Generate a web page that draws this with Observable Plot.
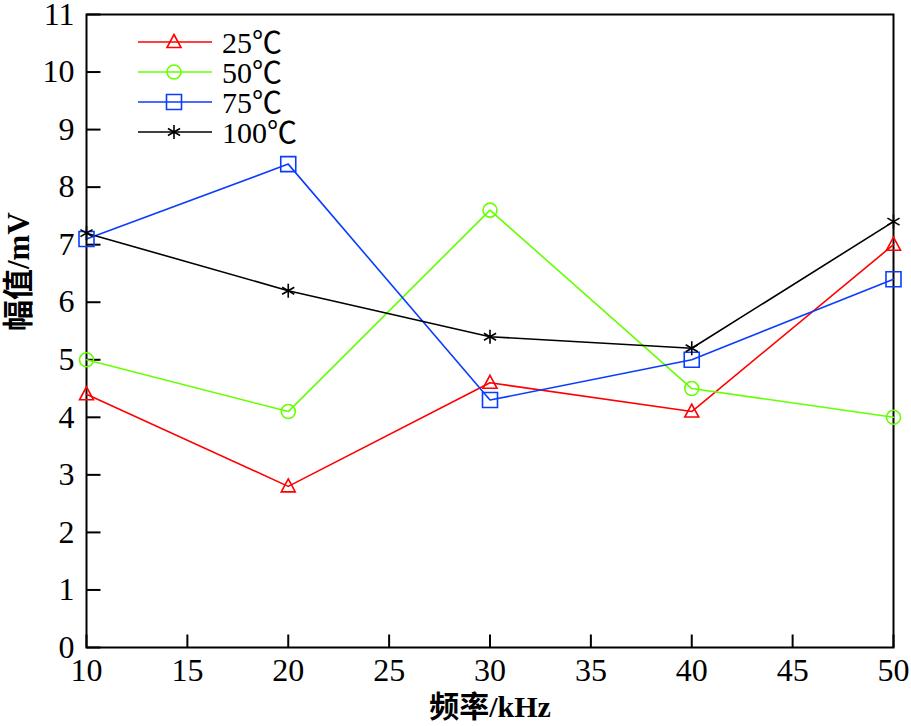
<!DOCTYPE html>
<html><head><meta charset="utf-8">
<script src="https://cdn.jsdelivr.net/npm/d3@7"></script>
<script src="https://cdn.jsdelivr.net/npm/@observablehq/plot@0.6"></script>
<style>
body{margin:0;background:#fff}
#wrap{position:relative;width:911px;height:726px}
#legend{position:absolute;left:0;top:0;pointer-events:none}
svg text{font-family:"Liberation Serif","Noto Sans CJK SC",serif}
</style>
</head><body><div id="wrap"></div>
<script>
const freq = [10, 20, 30, 40, 50];
const seriesNames = ["25℃", "50℃", "75℃", "100℃"];
const amp25 = [4.4, 2.8, 4.6, 4.1, 7.0];
const amp50 = [5.0, 4.1, 7.6, 4.5, 4.0];
const amp75 = [7.1, 8.4, 4.3, 5.0, 6.4];
const amp100 = [7.2, 6.2, 5.4, 5.2, 7.4];
const xTicks = [10, 15, 20, 25, 30, 35, 40, 45, 50];
const yTicks = [0, 1, 2, 3, 4, 5, 6, 7, 8, 9, 10, 11];
const colors = ["#ff0000", "#66ff00", "#0a3cff", "#000000"];
const xLabel = "频率/kHz";
const yLabel = "幅值/mV";

const amps = [amp25, amp50, amp75, amp100];

// custom marker shapes
const symTriangle = {draw(c){ c.moveTo(0,-7.5); c.lineTo(7,5.5); c.lineTo(-7,5.5); c.closePath(); }};
const symCircle = {draw(c){ c.moveTo(7,0); c.arc(0,0,7,0,2*Math.PI); c.closePath(); }};
const symSquare = {draw(c){ c.rect(-7.5,-7.5,15,15); }};
const symAsterisk = {draw(c){
  for (const a of [90, 30, -30]) {
    const r = a*Math.PI/180, dx = 7*Math.cos(r), dy = 7*Math.sin(r);
    c.moveTo(-dx,-dy); c.lineTo(dx,dy);
  }
}};
const symbols = [symTriangle, symCircle, symSquare, symAsterisk];
const tickRight = {draw(c){ c.moveTo(0,0); c.lineTo(14,0); }};
const tickUp = {draw(c){ c.moveTo(0,0); c.lineTo(0,-13); }};

const rows = seriesNames.flatMap((s, i) => freq.map((f, j) => ({series: s, f, v: amps[i][j]})));

const font = '"Liberation Serif","Noto Sans CJK SC",serif';

const marks = [
  Plot.frame({stroke: "black", strokeWidth: 2}),
  Plot.axisX(xTicks, {anchor: "bottom", tickSize: 0, tickPadding: 11, label: null, fontSize: 32, tickFormat: d => String(d)}),
  Plot.axisY(yTicks, {anchor: "left", tickSize: 0, tickPadding: 12, label: null, fontSize: 32, tickFormat: d => String(d)}),
  Plot.dot(yTicks, {x: () => 10, y: d => d, symbol: tickRight, stroke: "black", fill: "none", strokeWidth: 2}),
  Plot.dot(xTicks, {x: d => d, y: () => 0, symbol: tickUp, stroke: "black", fill: "none", strokeWidth: 2}),
  Plot.line(rows, {x: "f", y: "v", z: "series", stroke: "series", strokeWidth: 1.6}),
  ...seriesNames.map((s, i) => Plot.dot(rows.filter(d => d.series === s), {
    x: "f", y: "v", symbol: symbols[i], stroke: colors[i], fill: "none", strokeWidth: 1.6
  })),
  Plot.text([xLabel], {frameAnchor: "bottom", dy: 69, fontSize: 30, fontWeight: "bold", text: d => d}),
  Plot.text([yLabel], {frameAnchor: "left", dx: -67, rotate: -90, fontSize: 31, fontWeight: "bold", text: d => d})
];

const chart = Plot.plot({
  width: 911, height: 726,
  marginLeft: 86, marginRight: 18, marginTop: 14, marginBottom: 79,
  style: {fontFamily: font, fontSize: "30px", background: "white", color: "black"},
  x: {domain: [10, 50], label: null},
  y: {domain: [0, 11], label: null},
  color: {domain: seriesNames, range: colors},
  marks
});
const wrap = document.getElementById("wrap");
wrap.appendChild(chart);

// legend overlay
const lg = d3.select(wrap).append("svg").attr("id", "legend").attr("width", 911).attr("height", 726);
const rowsY = [42, 72, 102, 132];
seriesNames.forEach((s, i) => {
  const g = lg.append("g").attr("transform", `translate(0,${rowsY[i]})`);
  g.append("line").attr("x1", 138).attr("x2", 212).attr("y1", 0).attr("y2", 0)
    .attr("stroke", colors[i]).attr("stroke-width", 1.6);
  g.append("path").attr("transform", "translate(174,0)").attr("d", d3.symbol(symbols[i])())
    .attr("fill", "none").attr("stroke", colors[i]).attr("stroke-width", 1.6);
  g.append("text").attr("x", 222).attr("y", 0).attr("dy", "0.35em")
    .attr("font-size", 30).attr("fill", "black").text(s);
});
</script></body></html>
